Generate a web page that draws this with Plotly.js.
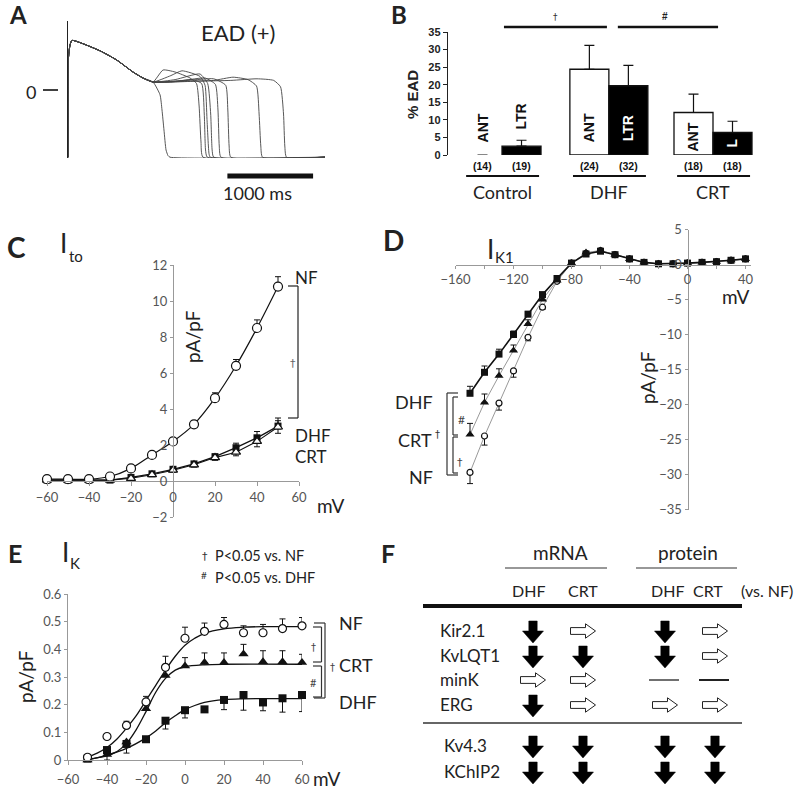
<!DOCTYPE html>
<html><head><meta charset="utf-8">
<script src="https://cdn.plot.ly/plotly-3.0.1.min.js"></script>
<style>html,body{margin:0;padding:0;background:#fff}#plot{width:800px;height:793px}</style>
</head><body><div id="plot"></div>
<script>
// ================= DATA =================
// Panel A: action potentials with EADs (time ms, membrane potential mV)
const apCommonT = [0, 6, 23, 47, 373, 568, 758, 875, 992];
const apCommonV = [-84, 41, 56, 62, 49, 37.5, 22.5, 15, 10];
const apTailT = [
  [1074,1097,1120,1144,1167,1190,2999],
  [1109,1249,1424,1500,1530,1552,1575,2999],
  [1200,1330,1540,1599,1622,1646,1660,2999],
  [1250,1540,1630,1665,1682,1700,2999],
  [1200,1450,1560,1590,1605,1625,2999],
  [1350,1600,1720,1750,1765,1785,2999],
  [1400,1700,1840,1865,1880,1900,2999],
  [1400,1700,1925,2100,2200,2230,2250,2270,2999],
  [1500,1900,2206,2400,2480,2515,2530,2550,2999]
];
const apTailV = [
  [-6,-25,-50,-75,-82,-84,-84],
  [25,22.5,15,8,-20,-65,-84,-84],
  [18,24,17,6,-37,-80,-84,-84],
  [13,20,8,-30,-75,-84,-84],
  [10,13,8,-30,-75,-84,-84],
  [12,15,7,-25,-70,-84,-84],
  [12,14,6,-25,-70,-84,-84],
  [11,12,16,13,5,-30,-70,-84,-84],
  [11,12,14,12,4,-30,-70,-84,-84]
];
const apScaleBarMs = 1000;

// Panel B: % EAD
const eadGroups = ['Control', 'DHF', 'CRT'];
const eadLabels = ['ANT', 'LTR', 'ANT', 'LTR', 'ANT', 'L'];
const eadValues = [0, 2.5, 24.4, 19.7, 12.1, 6.4];
const eadErrors = [0, 1.7, 6.8, 5.8, 5.2, 3.2];
const eadN = ['(14)', '(19)', '(24)', '(32)', '(18)', '(18)'];
const eadTicks = [0, 5, 10, 15, 20, 25, 30, 35];

// Panel C: Ito
const itoV = [-60, -50, -40, -30, -20, -10, 0, 10, 20, 30, 40, 50];
const itoNF = [0.1, 0.1, 0.1, 0.25, 0.7, 1.45, 2.2, 3.15, 4.6, 6.4, 8.5, 10.8];
const itoNFerr = [0, 0, 0, 0.08, 0.1, 0.12, 0.15, 0.2, 0.3, 0.35, 0.45, 0.55];
const itoDHF = [0.05, 0.05, 0.05, 0.05, 0.2, 0.4, 0.65, 0.95, 1.35, 1.85, 2.4, 3.05];
const itoDHFerr = [0, 0, 0, 0, 0.05, 0.08, 0.1, 0.12, 0.15, 0.25, 0.35, 0.45];
const itoCRT = [0.05, 0.05, 0.05, 0.05, 0.15, 0.35, 0.6, 0.9, 1.3, 1.6, 2.2, 3.0];
const itoCRTerr = [0, 0, 0, 0, 0.05, 0.08, 0.1, 0.12, 0.15, 0.2, 0.3, 0.35];

// Panel D: IK1
const ik1V = [-150,-140,-130,-120,-110,-100,-90,-80,-70,-60,-50,-40,-30,-20,-10,0,10,20,30,40];
const ik1DHF = [-18.4,-15.4,-12.8,-10.0,-7.1,-4.3,-2.0,0.2,1.5,1.9,1.4,0.8,0.3,0.1,0.1,0.2,0.3,0.4,0.6,0.8];
const ik1CRT = [-24.3,-19.7,-15.9,-12.3,-8.5,-5.0,-2.3,0.2,1.7,2.0,1.4,0.8,0.3,0.1,0.1,0.2,0.3,0.4,0.6,0.8];
const ik1NF = [-29.7,-24.5,-19.8,-15.2,-10.4,-6.1,-2.4,0.2,1.6,2.0,1.4,0.8,0.3,0.1,0.1,0.2,0.3,0.4,0.6,0.8];
const ik1DHFerr = [1.0,0.9,0.7,0.5,0.4,0.3,0.2,0,0,0,0,0,0,0,0,0,0,0,0,0];
const ik1CRTerr = [1.6,1.2,1.0,0.8,0.6,0.4,0.2,0,0,0,0,0,0,0,0,0,0,0,0,0];
const ik1NFerr = [1.6,1.3,1.0,0.9,0.5,0.3,0.2,0,0,0,0,0,0,0,0,0,0,0,0,0];

// Panel E: IK
const ikV = [-50, -40, -30, -20, -10, 0, 10, 20, 30, 40, 50, 60];
const ikNF = [0.01, 0.085, 0.125, 0.21, 0.335, 0.44, 0.465, 0.49, 0.46, 0.46, 0.475, 0.485];
const ikNFerr = [0, 0, 0.015, 0.02, 0.04, 0.04, 0.03, 0.025, 0.025, 0.03, 0.035, 0.03];
const ikCRT = [0.0, 0.02, 0.065, 0.185, 0.305, 0.34, 0.352, 0.352, 0.383, 0.355, 0.355, 0.352];
const ikCRTerrUp = [0, 0, 0, 0.015, 0.02, 0.03, 0.035, 0.035, 0.035, 0.04, 0.04, 0.03];
const ikCRTerrDn = [0, 0.02, 0.04, 0, 0, 0, 0, 0, 0, 0, 0, 0];
const ikDHF = [0.005, 0.036, 0.058, 0.075, 0.142, 0.18, 0.183, 0.217, 0.235, 0.208, 0.223, 0.235];
const ikDHFerrDn = [0, 0, 0, 0, 0.03, 0.028, 0, 0.035, 0.055, 0.03, 0.05, 0.06];
const ikFitNFv = [-50,-45,-40,-35,-30,-25,-20,-15,-10,-5,0,5,10,20,30,40,60];
const ikFitNF = [0.01,0.025,0.045,0.075,0.115,0.16,0.215,0.27,0.325,0.375,0.415,0.44,0.458,0.474,0.48,0.482,0.482];
const ikFitCRTv = [-50,-40,-35,-30,-25,-20,-15,-10,-5,0,10,20,60];
const ikFitCRT = [0.003,0.015,0.03,0.06,0.11,0.175,0.245,0.295,0.325,0.337,0.344,0.346,0.346];
const ikFitDHFv = [-50,-40,-30,-20,-15,-10,-5,0,5,10,20,30,60];
const ikFitDHF = [0.0,0.018,0.042,0.08,0.105,0.135,0.16,0.182,0.197,0.208,0.218,0.221,0.222];

// Panel F: expression changes vs. NF
const fGenes = ['Kir2.1', 'KvLQT1', 'minK', 'ERG', 'Kv4.3', 'KChIP2'];
const fHeaders = ['DHF', 'CRT', 'DHF', 'CRT'];
const fMrnaDHF = ['down', 'down', 'right', 'down', 'down', 'down'];
const fMrnaCRT = ['right', 'down', 'right', 'right', 'down', 'down'];
const fProtDHF = ['down', 'down', 'none', 'right', 'down', 'down'];
const fProtCRT = ['right', 'right', 'none', 'right', 'down', 'down'];

// ================= LAYOUT HELPERS =================
const W = 800, H = 793;
const px = x => x / W, py = y => 1 - y / H;
const CAL = "Lato, 'Open Sans', sans-serif";
const ARB = "'Liberation Sans', Arial, sans-serif";
const SYM = "'DejaVu Sans', sans-serif";
const shapes = [], annotations = [], traces = [];
function seg(x0, y0, x1, y1, w, c) {
  shapes.push({type: 'line', xref: 'paper', yref: 'paper', x0: px(x0), y0: py(y0), x1: px(x1), y1: py(y1),
    line: {color: c || '#222', width: w || 1.2}});
}
function txt(x, y, t, size, o) {
  o = o || {};
  annotations.push({xref: 'paper', yref: 'paper', x: px(x), y: py(y), text: t, showarrow: false,
    xanchor: o.anchor || 'center', yanchor: 'middle', textangle: o.angle || 0,
    font: {family: o.family || CAL, size: size, color: o.color || '#222', weight: o.bold ? 'bold' : 'normal'}});
}
function bracket(x, y0, y1, x0, w, c) { // vertical at x, ticks leftwards to x0
  seg(x0, y0, x, y0, w, c); seg(x, y0, x, y1, w, c); seg(x0, y1, x, y1, w, c);
}
const gray = '#999', tickGray = '#555';

// ================= PANEL A =================
for (let i = 0; i < apTailT.length; i++) {
  traces.push({type: 'scatter', mode: 'lines', x: apCommonT.concat(apTailT[i]), y: apCommonV.concat(apTailV[i]),
    xaxis: 'x', yaxis: 'y', line: {color: '#444', width: 0.9, shape: 'spline', smoothing: 0.5}, hoverinfo: 'skip', cliponaxis: false});
}
const apBarEnd = 2860;
shapes.push({type: 'line', xref: 'x', yref: 'paper', x0: apBarEnd - apScaleBarMs, x1: apBarEnd, y0: py(176), y1: py(176), line: {color: '#111', width: 5}});
shapes.push({type: 'line', xref: 'paper', yref: 'y', x0: px(43), x1: px(58), y0: 0, y1: 0, line: {color: '#111', width: 1.6}});
annotations.push({xref: 'paper', yref: 'y', x: px(31), y: 0, text: '0', showarrow: false, xanchor: 'center', yanchor: 'middle', yshift: -2,
  font: {family: CAL, size: 18, color: '#222'}});
txt(18, 15, 'A', 24, {bold: true});
txt(238, 33, 'EAD (+)', 22);
txt(257, 193, apScaleBarMs + ' ms', 18);

// ================= PANEL B =================
const barPos = [0, 1, 2.74, 3.74, 5.41, 6.41];
const barFill = ['#fff', '#000', '#fff', '#000', '#fff', '#000'];
traces.push({type: 'bar', x: barPos, y: eadValues, width: 1, xaxis: 'x2', yaxis: 'y2',
  marker: {color: barFill, line: {color: '#111', width: eadValues.map(v => v === 0 ? 0 : 1.3)}},
  error_y: {type: 'data', symmetric: false, array: eadErrors.map((e, i) => eadValues[i] === 0 ? NaN : e),
    arrayminus: eadErrors.map(() => 0), color: '#111', thickness: 1.2, width: 5}, hoverinfo: 'skip'});
const labelY = [7.7, 10.8, 7.7, 7.7, 5.1, 3.4];
eadLabels.forEach((l, i) => {
  const inside = barFill[i] === '#000' && labelY[i] < eadValues[i];
  annotations.push({xref: 'x2', yref: 'y2', x: barPos[i], y: labelY[i], text: l, textangle: -90, showarrow: false,
    xanchor: 'center', yanchor: 'middle',
    font: {family: ARB, size: 14, weight: 'bold', color: inside ? '#fff' : '#111'}});
  annotations.push({xref: 'x2', yref: 'paper', x: barPos[i], y: py(166), text: eadN[i], showarrow: false,
    xanchor: 'center', yanchor: 'middle',
    font: {family: ARB, size: 10.5, weight: 'bold', color: '#111'}});
});
eadGroups.forEach((g, k) => {
  const a = barPos[2 * k], b = barPos[2 * k + 1];
  shapes.push({type: 'line', xref: 'x2', yref: 'paper', x0: a - 0.42, x1: b + 0.45, y0: py(176), y1: py(176), line: {color: '#111', width: 2.2}});
  annotations.push({xref: 'x2', yref: 'paper', x: (a + b) / 2, y: py(192), text: g, showarrow: false,
    xanchor: 'center', yanchor: 'middle', font: {family: CAL, size: 18, color: '#222'}});
});
shapes.push({type: 'line', xref: 'x2', yref: 'paper', x0: 0.55, x1: 3.19, y0: py(27), y1: py(27), line: {color: '#111', width: 2.6}});
shapes.push({type: 'line', xref: 'x2', yref: 'paper', x0: 3.47, x1: 6.04, y0: py(27), y1: py(27), line: {color: '#111', width: 2.6}});
txt(555, 17, '†', 9, {family: SYM, color: '#333'});
txt(665, 16, '#', 10, {family: ARB, bold: true});
txt(399, 15, 'B', 24, {bold: true});
txt(412, 95, '% EAD', 15, {angle: -90, family: ARB, bold: true});

// ================= PANEL C =================
const errC = (arr) => ({type: 'data', array: arr, arrayminus: arr.map(() => 0), symmetric: false, color: '#111', thickness: 1, width: 3});
traces.push({type: 'scatter', mode: 'lines+markers', x: itoV, y: itoDHF, xaxis: 'x3', yaxis: 'y3', cliponaxis: false,
  line: {color: '#111', width: 1.3}, marker: {symbol: 'square', size: 7, color: '#111'}, error_y: errC(itoDHFerr), hoverinfo: 'skip'});
traces.push({type: 'scatter', mode: 'lines+markers', x: itoV, y: itoCRT, xaxis: 'x3', yaxis: 'y3', cliponaxis: false,
  line: {color: '#111', width: 1.1}, marker: {symbol: 'triangle-up', size: 8, color: '#fff', line: {color: '#111', width: 1.2}},
  error_y: {type: 'data', array: itoCRTerr, color: '#111', thickness: 1, width: 3}, hoverinfo: 'skip'});
traces.push({type: 'scatter', mode: 'lines+markers', x: itoV, y: itoNF, xaxis: 'x3', yaxis: 'y3', cliponaxis: false,
  line: {color: '#111', width: 1.2, shape: 'spline'}, marker: {symbol: 'circle', size: 9, color: '#fff', line: {color: '#111', width: 1.2}},
  error_y: errC(itoNFerr), hoverinfo: 'skip'});
txt(16, 247, 'C', 28, {bold: true});
txt(63, 243, 'I', 26);
txt(76, 256, 'to', 15);
txt(192, 337, 'pA/pF', 19, {angle: -90});
txt(330, 505, 'mV', 19);
bracket(298, 286, 418, 288, 1.2, '#222');
txt(293, 363, '†', 11, {family: SYM, color: '#666'});
txt(293, 277, 'NF', 17, {anchor: 'left'});
txt(293, 436, 'DHF', 17, {anchor: 'left'});
txt(293, 456, 'CRT', 17, {anchor: 'left'});

// ================= PANEL D =================
traces.push({type: 'scatter', mode: 'lines+markers', x: ik1V, y: ik1NF, xaxis: 'x4', yaxis: 'y4', cliponaxis: false,
  line: {color: '#999', width: 1}, marker: {symbol: 'circle', size: 6, color: '#fff', line: {color: '#111', width: 1.2}},
  error_y: {type: 'data', symmetric: false, array: ik1NF.map(() => 0), arrayminus: ik1NFerr, color: '#111', thickness: 1, width: 3}, hoverinfo: 'skip'});
traces.push({type: 'scatter', mode: 'lines+markers', x: ik1V, y: ik1CRT, xaxis: 'x4', yaxis: 'y4', cliponaxis: false,
  line: {color: '#999', width: 1}, marker: {symbol: 'triangle-up', size: 8, color: '#111'},
  error_y: {type: 'data', symmetric: false, array: ik1CRTerr, arrayminus: ik1CRT.map(() => 0), color: '#111', thickness: 1, width: 3}, hoverinfo: 'skip'});
traces.push({type: 'scatter', mode: 'lines+markers', x: ik1V, y: ik1DHF, xaxis: 'x4', yaxis: 'y4', cliponaxis: false,
  line: {color: '#111', width: 1.6}, marker: {symbol: 'square', size: 7, color: '#111'},
  error_y: {type: 'data', symmetric: false, array: ik1DHFerr, arrayminus: ik1DHF.map(() => 0), color: '#111', thickness: 1, width: 3}, hoverinfo: 'skip'});
txt(393, 240, 'D', 28, {bold: true});
txt(490, 249, 'I', 26);
txt(504, 257, 'K1', 15);
txt(647, 378, 'pA/pF', 19, {angle: -90});
txt(735, 296, 'mV', 19);
txt(435, 402, 'DHF', 18, {anchor: 'right'});
txt(434, 440, 'CRT', 18, {anchor: 'right'});
txt(437.5, 434, '†', 10, {family: SYM, color: '#333'});
txt(435, 477, 'NF', 18, {anchor: 'right'});
bracket(447, 393, 475, 458, 1.2, '#333');
bracket(453, 397, 435, 458, 1.2, '#333');
bracket(453, 437, 473, 458, 1.2, '#333');
txt(461, 420, '#', 12, {color: '#444'});
txt(460, 462, '†', 11, {family: SYM, color: '#444'});

// ================= PANEL E =================
[[ikFitNFv, ikFitNF], [ikFitCRTv, ikFitCRT], [ikFitDHFv, ikFitDHF]].forEach(f => {
  traces.push({type: 'scatter', mode: 'lines', x: f[0], y: f[1], xaxis: 'x5', yaxis: 'y5', cliponaxis: false,
    line: {color: '#111', width: 1.3, shape: 'spline', smoothing: 1}, hoverinfo: 'skip'});
});
traces.push({type: 'scatter', mode: 'markers', x: ikV, y: ikDHF, xaxis: 'x5', yaxis: 'y5', cliponaxis: false,
  marker: {symbol: 'square', size: 8, color: '#111'},
  error_y: {type: 'data', symmetric: false, array: ikDHF.map(() => 0), arrayminus: ikDHFerrDn, color: '#111', thickness: 1, width: 3}, hoverinfo: 'skip'});
traces.push({type: 'scatter', mode: 'markers', x: ikV, y: ikCRT, xaxis: 'x5', yaxis: 'y5', cliponaxis: false,
  marker: {symbol: 'triangle-up', size: 9, color: '#111'},
  error_y: {type: 'data', symmetric: false, array: ikCRTerrUp, arrayminus: ikCRTerrDn, color: '#111', thickness: 1, width: 3}, hoverinfo: 'skip'});
traces.push({type: 'scatter', mode: 'markers', x: ikV, y: ikNF, xaxis: 'x5', yaxis: 'y5', cliponaxis: false,
  marker: {symbol: 'circle', size: 8, color: '#fff', line: {color: '#111', width: 1.2}},
  error_y: {type: 'data', symmetric: false, array: ikNFerr, arrayminus: ikNF.map(() => 0), color: '#111', thickness: 1, width: 3}, hoverinfo: 'skip'});
txt(15, 553, 'E', 25, {bold: true});
txt(65, 552, 'I', 26);
txt(75, 563, 'K', 15);
txt(205, 556, '†', 11, {family: SYM, color: '#333'});
txt(213, 555, 'P&lt;0.05 vs. NF', 14.5, {anchor: 'left'});
txt(204, 575, '#', 10, {color: '#333'});
txt(213, 577, 'P&lt;0.05 vs. DHF', 14.5, {anchor: 'left'});
txt(25, 677, 'pA/pF', 19, {angle: -90});
txt(326, 778, 'mV', 19);
bracket(325, 623, 698, 314, 1.2, '#333');
bracket(321.5, 627, 662, 313, 1.2, '#333');
bracket(321.5, 666, 697, 313, 1.2, '#333');
txt(313, 647, '†', 10, {family: SYM, color: '#444'});
txt(313, 682, '#', 11, {color: '#444'});
txt(332, 667, '†', 10, {family: SYM, color: '#444'});
txt(337, 623, 'NF', 18, {anchor: 'left'});
txt(337, 665, 'CRT', 18, {anchor: 'left'});
txt(337, 702, 'DHF', 18, {anchor: 'left'});

// ================= PANEL F =================
txt(388, 553, 'F', 25, {bold: true});
txt(560, 552, 'mRNA', 19);
txt(688, 552, 'protein', 19);
seg(505, 568, 607, 568, 1.2, '#333');
seg(636, 568, 737, 568, 1.2, '#333');
const fColX = [533, 583, 665, 715];
const fHeadX = [528, 583, 667, 708];
fHeaders.forEach((h, j) => txt(fHeadX[j], 590, h, 16));
txt(767, 590, '(vs. NF)', 16);
seg(423, 606, 742, 606, 4, '#111');
seg(423, 723, 742, 723, 1.4, '#333');
const fRowY = [630, 655, 679, 704, 745, 771];
const fGeneX = [438, 438, 438, 438, 442, 442];
fGenes.forEach((g, i) => txt(fGeneX[i], fRowY[i], g, 17, {anchor: 'left'}));
function pathOf(pts) { return 'M' + pts.map(p => px(p[0]).toFixed(5) + ',' + py(p[1]).toFixed(5)).join(' L') + ' Z'; }
function arrowShape(kind, cx, cy, j) {
  if (kind === 'down') {
    const sw = 4.2, hw = 10.5, top = cy - 10, mid = cy, bot = cy + 12;
    shapes.push({type: 'path', xref: 'paper', yref: 'paper', path: pathOf([[cx - sw, top], [cx + sw, top], [cx + sw, mid], [cx + hw, mid], [cx, bot], [cx - hw, mid], [cx - sw, mid]]),
      fillcolor: '#000', line: {color: '#000', width: 0.5}});
  } else if (kind === 'right') {
    const L = cx - 12.5, m = cx + 2.5, R = cx + 12.5, sh = 3.4, hh = 7.2;
    shapes.push({type: 'path', xref: 'paper', yref: 'paper', path: pathOf([[L, cy - sh], [m, cy - sh], [m, cy - hh], [R, cy], [m, cy + hh], [m, cy + sh], [L, cy + sh]]),
      fillcolor: '#fff', line: {color: '#222', width: 1}});
  } else {
    seg(cx - 16, cy, cx + 14, cy, j === 3 ? 2 : 1.3, '#222');
  }
}
[fMrnaDHF, fMrnaCRT, fProtDHF, fProtCRT].forEach((col, j) => {
  col.forEach((k, i) => arrowShape(k, fColX[j], fRowY[i] + 1, j));
});

// ================= AXES =================
const axC = {showgrid: false, zeroline: false, showline: true, linecolor: gray, linewidth: 1, ticks: 'outside', ticklen: 4, tickcolor: gray,
  tickfont: {family: CAL, size: 13, color: tickGray}, fixedrange: true};
const layout = {
  width: W, height: H, margin: {l: 0, r: 0, t: 0, b: 0}, paper_bgcolor: '#fff', plot_bgcolor: 'rgba(0,0,0,0)',
  showlegend: false, shapes: shapes, annotations: annotations,
  xaxis: {domain: [px(68), px(325)], range: [0, 2999], visible: false, anchor: 'y'},
  yaxis: {domain: [py(158), py(21)], range: [-85, 86.25], showline: true, linecolor: '#222', linewidth: 1, showticklabels: false,
    ticks: '', showgrid: false, zeroline: false, anchor: 'x'},
  xaxis2: {domain: [px(448), px(760)], range: [-0.885, 7.115], visible: false, anchor: 'y2'},
  yaxis2: {domain: [py(155), py(32)], range: [0, 35], tickvals: eadTicks, ticks: 'outside', ticklen: 4, tickwidth: 1, tickcolor: '#222',
    showline: true, linecolor: '#222', linewidth: 1.2, showgrid: false, zeroline: false, anchor: 'x2',
    tickfont: {family: ARB, size: 11, color: '#222', weight: 'bold'}},
  xaxis3: Object.assign({}, axC, {domain: [px(47), px(299)], range: [-60, 60], anchor: 'free', position: py(481), dtick: 20, tick0: 0}),
  yaxis3: Object.assign({}, axC, {domain: [py(517), py(265)], range: [-2, 12], anchor: 'free', position: px(173), dtick: 2, ticklen: 3}),
  xaxis4: Object.assign({}, axC, {domain: [px(455.5), px(750.6)], range: [-160, 43.5], anchor: 'free', position: py(264.5),
    tickmode: 'array', tickvals: [-160, -120, -80, -40, 0, 40], ticklen: 3,
    minor: {tickmode: 'linear', tick0: 0, dtick: 20, ticks: 'outside', ticklen: 3, tickcolor: gray, showgrid: false}}),
  yaxis4: Object.assign({}, axC, {domain: [py(509.5), py(229.5)], range: [-35, 5], anchor: 'free', position: px(687.5), dtick: 5, ticklen: 3}),
  xaxis5: Object.assign({}, axC, {domain: [px(68), px(302)], range: [-60, 60], anchor: 'y5', dtick: 20, tick0: 0, ticklabelstandoff: 3}),
  yaxis5: Object.assign({}, axC, {domain: [py(760), py(594)], range: [0, 0.6], anchor: 'x5', dtick: 0.1, ticklen: 3})
};
Plotly.newPlot('plot', traces, layout, {staticPlot: true, displayModeBar: false});
</script></body></html>
